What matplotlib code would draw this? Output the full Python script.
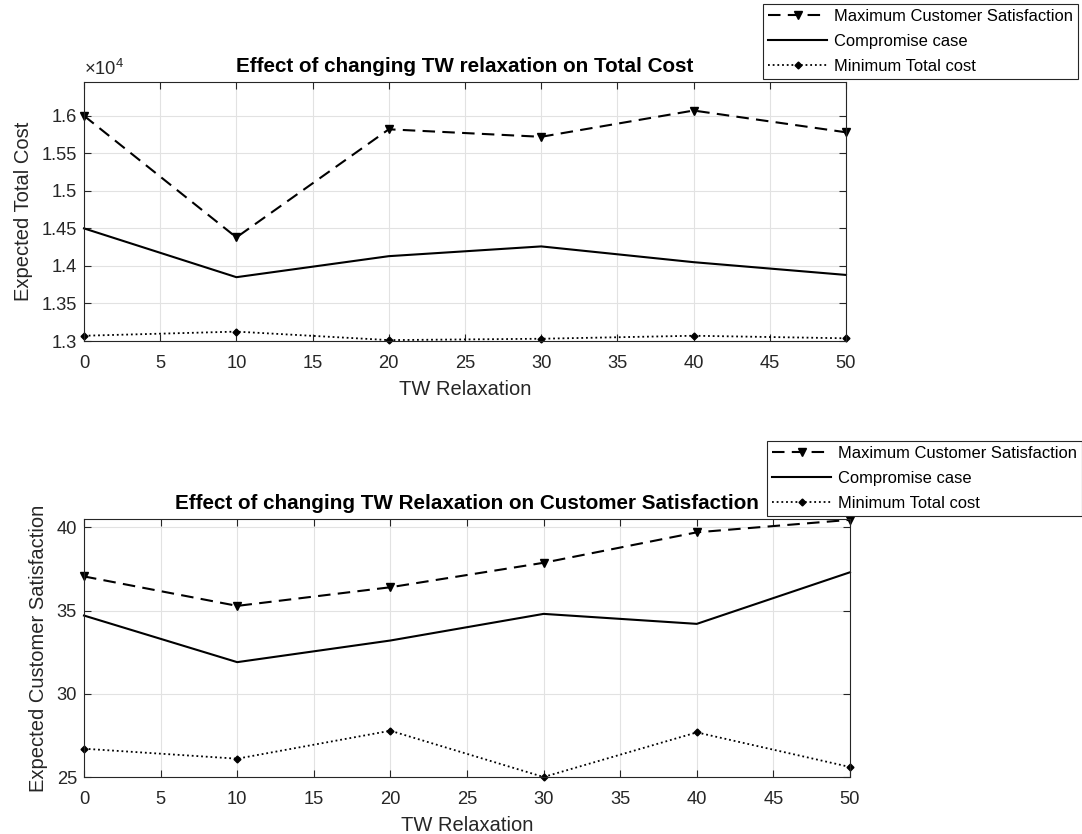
import matplotlib
matplotlib.use("Agg")
import matplotlib.pyplot as plt
from matplotlib.ticker import FuncFormatter, MultipleLocator

# TW relaxation levels
tw_relaxation = [0, 10, 20, 30, 40, 50]

# Expected total cost for each scenario
cost_max_satisfaction = [16000, 14380, 15820, 15720, 16070, 15780]
cost_compromise = [14500, 13850, 14130, 14260, 14050, 13880]
cost_min_total = [13070, 13125, 13012, 13030, 13070, 13036]

# Expected customer satisfaction for each scenario
sat_max_satisfaction = [37.05, 35.28, 36.4, 37.87, 39.7, 40.45]
sat_compromise = [34.7, 31.9, 33.2, 34.8, 34.2, 37.3]
sat_min_total = [26.7, 26.1, 27.78, 25.0, 27.68, 25.6]

series_labels = ["Maximum Customer Satisfaction", "Compromise case", "Minimum Total cost"]

plt.rcParams["font.family"] = ["Liberation Sans", "DejaVu Sans"]
plt.rcParams["mathtext.fontset"] = "custom"
plt.rcParams["mathtext.rm"] = "Liberation Sans"
plt.rcParams["mathtext.it"] = "Liberation Sans"

DARK = "#262626"
W, H = 1082, 834
fig = plt.figure(figsize=(W / 100, H / 100), dpi=100)


def px_axes(left, top, right, bottom):
    return fig.add_axes([left / W, 1 - bottom / H, (right - left) / W, (bottom - top) / H])


def style_axes(ax):
    ax.grid(True, color="#e2e2e2", linewidth=0.8)
    ax.set_axisbelow(True)
    for sp in ax.spines.values():
        sp.set_color(DARK)
        sp.set_linewidth(0.8)
    ax.tick_params(direction="in", length=5, width=0.8, colors=DARK,
                   labelsize=13.2, top=True, right=True)
    ax.tick_params(axis="x", pad=10)
    ax.tick_params(axis="y", pad=5)
    ax.xaxis.set_major_locator(MultipleLocator(5))
    ax.set_xlim(0, 50)


def draw_series(ax, x, y_max, y_comp, y_min):
    h1, = ax.plot(x, y_max, color="black", linewidth=1.5, dashes=(6, 3.5),
                  marker="v", markersize=5.5, markerfacecolor="black", clip_on=False)
    h2, = ax.plot(x, y_comp, color="black", linewidth=1.5, clip_on=False)
    h3, = ax.plot(x, y_min, color="black", linewidth=1.3, dashes=(1, 1.6),
                  marker="D", markersize=3.5, markerfacecolor="black", clip_on=False)
    return [h1, h2, h3]


def add_legend(handles, left_px, top_px):
    leg = fig.legend(handles, series_labels, loc="upper left",
                     bbox_to_anchor=(left_px / W, 1 - top_px / H),
                     bbox_transform=fig.transFigure, fontsize=11.9,
                     frameon=True, fancybox=False, borderaxespad=0,
                     handlelength=3.6, handletextpad=0.4, labelspacing=0.6,
                     borderpad=0.3, numpoints=1)
    fr = leg.get_frame()
    fr.set_edgecolor(DARK)
    fr.set_linewidth(0.8)
    fr.set_alpha(1)
    for t in leg.get_texts():
        t.set_color("black")
    return leg


# Top panel: total cost
ax1 = px_axes(84, 82, 846, 341)
style_axes(ax1)
h = draw_series(ax1, tw_relaxation, cost_max_satisfaction, cost_compromise, cost_min_total)
ax1.set_ylim(13000, 16450)
ax1.yaxis.set_major_locator(MultipleLocator(500))
ax1.yaxis.set_major_formatter(FuncFormatter(lambda v, p: f"{v / 1e4:g}"))
ax1.text(0.0, 1.012, r"$\times10^{4}$", transform=ax1.transAxes, fontsize=13.2,
         color=DARK, ha="left", va="bottom")
ax1.set_title("Effect of changing TW relaxation on Total Cost", fontsize=14.9,
              fontweight="bold", pad=7)
ax1.set_xlabel("TW Relaxation", fontsize=14.5, color=DARK, labelpad=6)
ax1.set_ylabel("Expected Total Cost", fontsize=14.5, color=DARK, labelpad=6)
add_legend(h, 763, 4)

# Bottom panel: customer satisfaction
ax2 = px_axes(84, 519, 850, 777)
style_axes(ax2)
h = draw_series(ax2, tw_relaxation, sat_max_satisfaction, sat_compromise, sat_min_total)
ax2.set_ylim(25, 40.5)
ax2.yaxis.set_major_locator(MultipleLocator(5))
ax2.set_title("Effect of changing TW Relaxation on Customer Satisfaction", fontsize=14.9,
              fontweight="bold", pad=7)
ax2.set_xlabel("TW Relaxation", fontsize=14.5, color=DARK, labelpad=6)
ax2.set_ylabel("Expected Customer Satisfaction", fontsize=14.5, color=DARK, labelpad=6)
add_legend(h, 767, 441)

fig.savefig("out.png", dpi=100, facecolor="white")
